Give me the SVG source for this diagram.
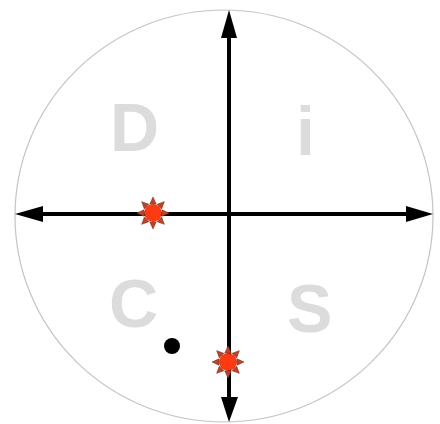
<svg xmlns="http://www.w3.org/2000/svg" width="440" height="424" viewBox="0 0 440 424">
  <style>
    .letter { font-family: "Liberation Sans", Arial, sans-serif; font-weight: bold; font-size: 68px; fill: #dcdcdc; }
    .axis { stroke: #000; stroke-width: 4; fill: none; }
    .ray { fill: #b8442a; stroke: #8a3422; stroke-width: 0.6; }
    .core { fill: #ff3a12; stroke: #c83418; stroke-width: 0.8; }
  </style>
  <defs>
    <polygon id="ray" class="ray" points="-3.2,-9 3.2,-9 0,-16"/>
    <g id="star">
      <use href="#ray"/>
      <use href="#ray" transform="rotate(45)"/>
      <use href="#ray" transform="rotate(90)"/>
      <use href="#ray" transform="rotate(135)"/>
      <use href="#ray" transform="rotate(180)"/>
      <use href="#ray" transform="rotate(225)"/>
      <use href="#ray" transform="rotate(270)"/>
      <use href="#ray" transform="rotate(315)"/>
      <circle class="core" r="8.5"/>
    </g>
  </defs>
  <rect width="440" height="424" fill="#fff"/>
  <g id="outline">
    <ellipse cx="224" cy="216" rx="209" ry="206" fill="none" stroke="#c4c4c4" stroke-width="1.2"/>
  </g>
  <g id="label-D"><text class="letter" x="110" y="151">D</text></g>
  <g id="label-i"><text class="letter" x="296" y="155">i</text></g>
  <g id="label-C"><text class="letter" x="109" y="327">C</text></g>
  <g id="label-S"><text class="letter" x="287" y="332">S</text></g>
  <g id="connectors">
    <line class="axis" x1="229" y1="36" x2="229" y2="398"/>
    <polygon points="229,10 221,38 237,38" fill="#000"/>
    <polygon points="229,422 221,397 238,397" fill="#000"/>
    <line class="axis" x1="42" y1="214" x2="408" y2="214"/>
    <polygon points="15,214 43,206 43,222" fill="#000"/>
    <polygon points="433,214 406,206 406,222" fill="#000"/>
  </g>
  <g id="dot"><circle cx="172" cy="346" r="8" fill="#000"/></g>
  <g id="star-left"><use href="#star" x="153" y="213"/></g>
  <g id="star-bottom"><use href="#star" x="228" y="362"/></g>
</svg>
